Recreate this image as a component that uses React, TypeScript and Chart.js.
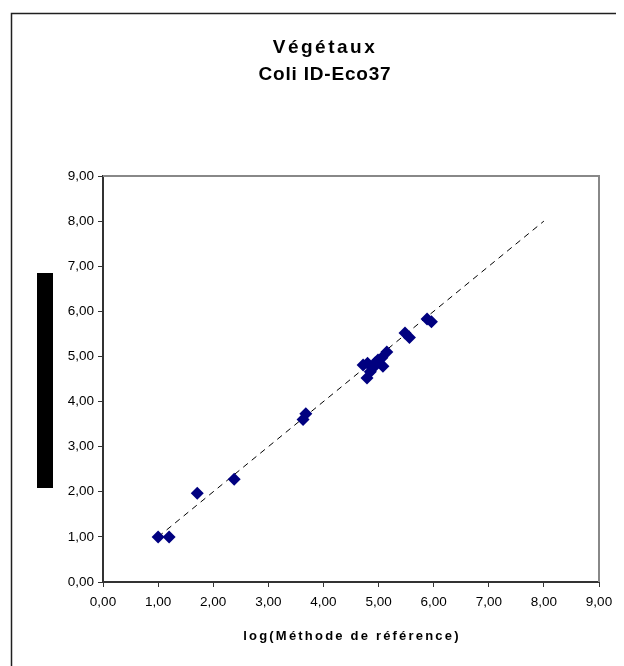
import React, { useEffect, useRef } from "react";
import { Chart, registerables } from "chart.js";

Chart.register(...registerables);

const titleLines = ["Végétaux", "Coli ID-Eco37"];
const xAxisTitle = "log(Méthode de référence)";

const xValues = [1.0, 1.2, 1.71, 2.38, 3.63, 3.68, 4.72, 4.79, 4.8, 4.85, 4.9, 4.94, 4.99, 5.06, 5.08, 5.15, 5.48, 5.56, 5.88, 5.96];
const yValues = [1.0, 1.0, 1.97, 2.28, 3.6, 3.73, 4.81, 4.52, 4.85, 4.66, 4.75, 4.86, 4.92, 4.97, 4.78, 5.1, 5.52, 5.42, 5.83, 5.77];

const trendX = [1.0, 8.0];
const trendY = [1.0, 8.0];

const axisMin = 0;
const axisMax = 9;
const axisStep = 1;

const FONT = "'Liberation Sans', Arial, sans-serif";
const W = 616;
const H = 658;

const fmt = (v: number) => Number(v).toFixed(2).replace(".", ",");

const decorPlugin = {
  id: "decor",
  beforeDraw(chart: any) {
    const ctx = chart.ctx;
    ctx.save();
    ctx.fillStyle = "#ffffff";
    ctx.fillRect(0, 0, chart.width, chart.height);
    // outer frame
    ctx.strokeStyle = "#202020";
    ctx.lineWidth = 1.5;
    ctx.strokeRect(3.5, 5.5, chart.width + 20, chart.height + 20);
    // redaction bar
    ctx.fillStyle = "#000000";
    ctx.fillRect(29, 265, 16, 215);
    // title
    ctx.fillStyle = "#000000";
    ctx.textAlign = "center";
    ctx.textBaseline = "middle";
    ctx.font = `bold 19px ${FONT}`;
    (ctx as any).letterSpacing = "2.5px";
    ctx.fillText(titleLines[0], 317, 40);
    (ctx as any).letterSpacing = "0.8px";
    ctx.fillText(titleLines[1], 317, 67);
    (ctx as any).letterSpacing = "0px";
    ctx.restore();
  },
  afterDraw(chart: any) {
    const { ctx, chartArea } = chart;
    ctx.save();
    ctx.strokeStyle = "#888888";
    ctx.lineWidth = 2;
    ctx.beginPath();
    ctx.moveTo(chartArea.left, chartArea.top);
    ctx.lineTo(chartArea.right, chartArea.top);
    ctx.lineTo(chartArea.right, chartArea.bottom);
    ctx.stroke();
    // x-axis title (letter-spaced like the original)
    ctx.fillStyle = "#000000";
    ctx.textAlign = "center";
    ctx.textBaseline = "middle";
    ctx.font = `bold 13px ${FONT}`;
    (ctx as any).letterSpacing = "2.2px";
    ctx.fillText(xAxisTitle, (chartArea.left + chartArea.right) / 2 + 1, 628);
    (ctx as any).letterSpacing = "0px";
    ctx.restore();
  },
};

export default function App() {
  const ref = useRef<HTMLCanvasElement | null>(null);

  useEffect(() => {
    if (!ref.current) return;
    const points = xValues.map((x, i) => ({ x, y: yValues[i] }));
    const trend = trendX.map((x, i) => ({ x, y: trendY[i] }));
    const chart = new Chart(ref.current, {
      type: "scatter",
      data: {
        datasets: [
          {
            type: "line",
            data: trend,
            borderColor: "#000000",
            borderWidth: 1,
            borderDash: [6, 5],
            pointRadius: 0,
            fill: false,
            order: 2,
          } as any,
          {
            data: points,
            pointStyle: "rectRot",
            pointRadius: 6.5,
            backgroundColor: "#000080",
            borderColor: "#000080",
            borderWidth: 0,
            order: 1,
          },
        ],
      },
      plugins: [decorPlugin],
      options: {
        responsive: false,
        animation: false,
        devicePixelRatio: 1,
        layout: { padding: { left: 0, right: 25, top: 168, bottom: 0 } },
        plugins: {
          legend: { display: false },
          title: { display: false },
          tooltip: { enabled: false },
        },
        scales: {
          x: {
            type: "linear",
            min: axisMin,
            max: axisMax,
            ticks: {
              stepSize: axisStep,
              callback: (v: any) => fmt(v),
              color: "#000000",
              font: { family: FONT, size: 13.5 },
              padding: 7,
              maxRotation: 0,
            },
            grid: { drawOnChartArea: false, drawTicks: true, tickLength: 5, color: "#333333", lineWidth: 1 },
            border: { color: "#333333", width: 2 },
            title: { display: false },
            afterFit: (s: any) => {
              s.height = 84;
            },
          },
          y: {
            type: "linear",
            min: axisMin,
            max: axisMax,
            ticks: {
              stepSize: axisStep,
              callback: (v: any) => fmt(v),
              color: "#000000",
              font: { family: FONT, size: 13.5 },
              padding: 4,
            },
            grid: { drawOnChartArea: false, drawTicks: true, tickLength: 5, color: "#333333", lineWidth: 1 },
            border: { color: "#333333", width: 2 },
            afterFit: (s: any) => {
              s.width = 95;
            },
          },
        },
      },
    });
    return () => chart.destroy();
  }, []);

  return (
    <div style={{ width: W, height: H }}>
      <canvas ref={ref} width={W} height={H} style={{ display: "block" }} />
    </div>
  );
}
